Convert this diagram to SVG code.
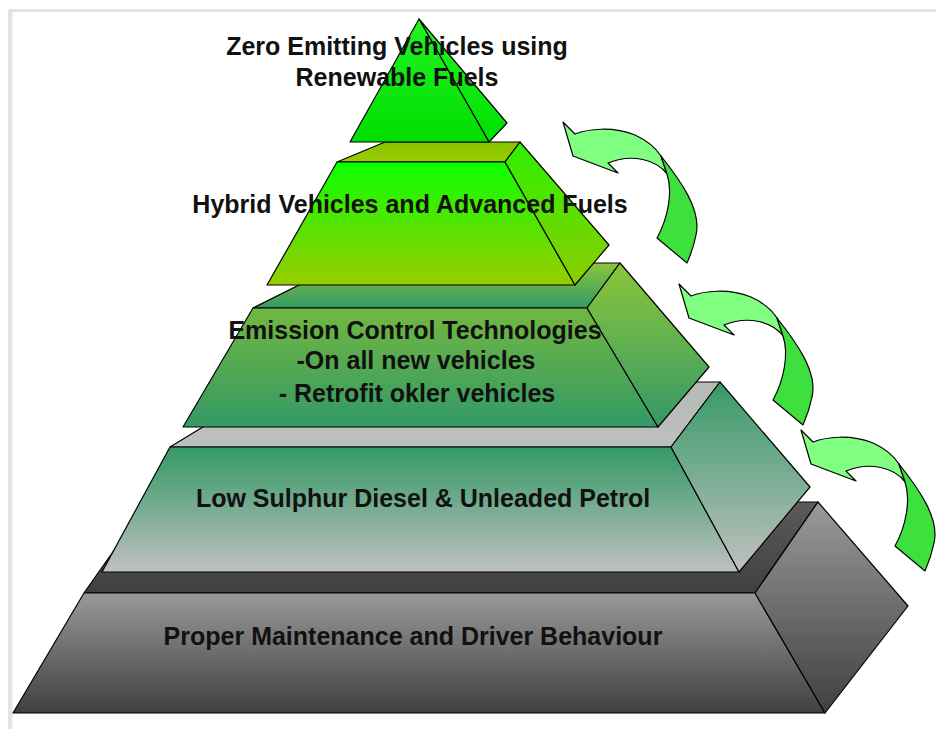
<svg xmlns="http://www.w3.org/2000/svg" xmlns:xlink="http://www.w3.org/1999/xlink" width="936" height="729" viewBox="0 0 936 729">
<style>
.f{stroke:#000;stroke-width:1.2;stroke-linejoin:round}
.t{font-family:"Liberation Sans",Arial,sans-serif;font-weight:bold;font-size:25px;fill:#111;text-anchor:middle}
.al{fill:#80ff80;stroke:#000;stroke-width:1.2;stroke-linejoin:round}
.ad{fill:#3de03d;stroke:#000;stroke-width:1.2;stroke-linejoin:round}
</style>
<defs>
<linearGradient id="gApF" x1="0" y1="0" x2="0" y2="1"><stop offset="0" stop-color="#22f422"/><stop offset="1" stop-color="#00dd00"/></linearGradient>
<linearGradient id="gApS" x1="0" y1="0" x2="0" y2="1"><stop offset="0" stop-color="#22f422"/><stop offset="1" stop-color="#00e000"/></linearGradient>
<linearGradient id="gT2F" x1="0" y1="0" x2="0" y2="1"><stop offset="0" stop-color="#0cff00"/><stop offset="1" stop-color="#99cc00"/></linearGradient>
<linearGradient id="gT2S" x1="0" y1="0" x2="0" y2="1"><stop offset="0" stop-color="#2ef000"/><stop offset="1" stop-color="#8ccc00"/></linearGradient>
<linearGradient id="gT2T" x1="0" y1="0" x2="0" y2="1"><stop offset="0" stop-color="#88c400"/><stop offset="1" stop-color="#99cc00"/></linearGradient>
<linearGradient id="gT3F" x1="0" y1="0" x2="0" y2="1"><stop offset="0" stop-color="#72b840"/><stop offset="1" stop-color="#339966"/></linearGradient>
<linearGradient id="gT3S" x1="0" y1="0" x2="0" y2="1"><stop offset="0" stop-color="#8cc63a"/><stop offset="1" stop-color="#339966"/></linearGradient>
<linearGradient id="gT3T" x1="0" y1="0" x2="0" y2="1"><stop offset="0" stop-color="#8cc63a"/><stop offset="1" stop-color="#339966"/></linearGradient>
<linearGradient id="gT4F" x1="0" y1="0" x2="0" y2="1"><stop offset="0" stop-color="#339966"/><stop offset="1" stop-color="#c0c0c0"/></linearGradient>
<linearGradient id="gT4S" x1="0" y1="0" x2="0" y2="1"><stop offset="0" stop-color="#379a68"/><stop offset="1" stop-color="#c0c0c0"/></linearGradient>
<linearGradient id="gT4T" x1="0" y1="0" x2="0" y2="1"><stop offset="0" stop-color="#b4bab4"/><stop offset="1" stop-color="#bec0be"/></linearGradient>
<linearGradient id="gT5F" x1="0" y1="0" x2="0" y2="1"><stop offset="0" stop-color="#999999"/><stop offset="1" stop-color="#404040"/></linearGradient>
<linearGradient id="gT5S" x1="0" y1="0" x2="0" y2="1"><stop offset="0" stop-color="#9a9a9a"/><stop offset="1" stop-color="#404040"/></linearGradient>
<linearGradient id="gT5T" x1="0" y1="0" x2="0" y2="1"><stop offset="0" stop-color="#5a5a5a"/><stop offset="1" stop-color="#404040"/></linearGradient>
<g id="arrow">
<path class="al" d="M575,134 C588,129 612,126 635,135 C646,140 655,147 661,156 L667,174 C657,160 632,153 608,163 L618,173 L573,156 L563,122 Z"/>
<path class="ad" d="M661,156 C680,180 702,210 696,235 C694,245 691,254 687,263 L657,238 C668,218 673,192 667,174 Z"/>
</g>
</defs>
<rect width="936" height="729" fill="#ffffff"/>
<rect x="8" y="9" width="928" height="3" fill="#e4e4dc"/>
<rect x="8" y="9" width="4.5" height="720" fill="#e4e4dc"/>

<g id="tier-5">
<polygon class="f" fill="url(#gT5T)" points="84,593 148,502 818,502 755,593"/>
<polygon class="f" fill="url(#gT5F)" points="84,593 755,593 825,713 13,713"/>
<polygon class="f" fill="url(#gT5S)" points="755,593 818,502 908,606 825,713"/>
<text class="t" x="413" y="645">Proper Maintenance and Driver Behaviour</text>
</g>

<g id="tier-4">
<polygon class="f" fill="url(#gT4T)" points="170,447 277,382 720,382 671,447"/>
<polygon class="f" fill="url(#gT4F)" points="170,447 671,447 739,572 102,572"/>
<polygon class="f" fill="url(#gT4S)" points="671,447 720,382 810,487 739,572"/>
<text class="t" x="423" y="507">Low Sulphur Diesel &amp; Unleaded Petrol</text>
</g>

<g id="tier-3">
<polygon class="f" fill="url(#gT3T)" points="253,308 343,263 620,263 587,308"/>
<polygon class="f" fill="url(#gT3F)" points="253,308 587,308 658,427 183,427"/>
<polygon class="f" fill="url(#gT3S)" points="587,308 620,263 709,367 658,427"/>
<text class="t" x="415" y="339">Emission Control Technologies</text>
<text class="t" x="416" y="369">-On all new vehicles</text>
<text class="t" x="417" y="402">- Retrofit okler vehicles</text>
</g>

<g id="tier-2">
<polygon class="f" fill="url(#gT2T)" points="337,162 385,142 520,142 505,162"/>
<polygon class="f" fill="url(#gT2F)" points="337,162 505,162 575,285 267,285"/>
<polygon class="f" fill="url(#gT2S)" points="505,162 520,142 609,245 575,285"/>
<text class="t" x="410" y="213">Hybrid Vehicles and Advanced Fuels</text>
</g>

<g id="tier-1">
<polygon class="f" fill="url(#gApS)" points="419,19 507,123 489,142"/>
<polygon class="f" fill="url(#gApF)" points="419,19 489,142 350,142"/>
<text class="t" x="397" y="55">Zero Emitting Vehicles using</text>
<text class="t" x="397" y="86">Renewable Fuels</text>
</g>

<g id="connectors">
<use id="arrow-1" xlink:href="#arrow"/>
<use id="arrow-2" xlink:href="#arrow" transform="translate(116,162)"/>
<use id="arrow-3" xlink:href="#arrow" transform="translate(238,308)"/>
</g>
</svg>
